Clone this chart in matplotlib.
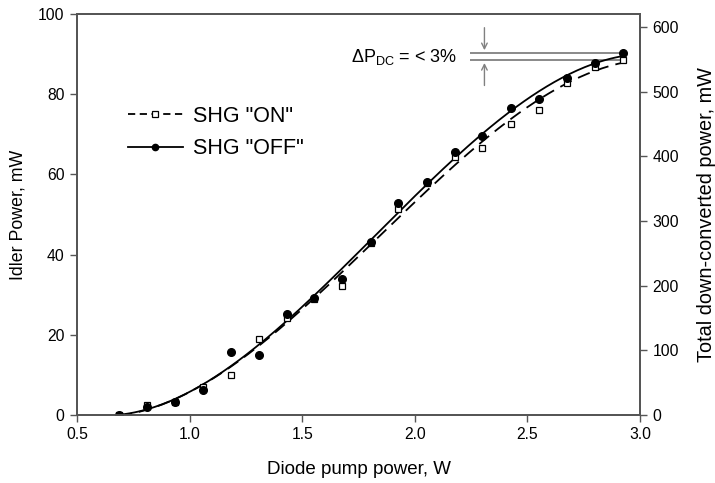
import matplotlib
matplotlib.use("Agg")
import matplotlib.pyplot as plt
import numpy as np

plt.rcParams["font.family"] = ["Liberation Sans", "DejaVu Sans"]
plt.rcParams["mathtext.fontset"] = "custom"
plt.rcParams["mathtext.rm"] = "Liberation Sans"
plt.rcParams["mathtext.it"] = "Liberation Sans"

# ------------------------------------------------------------------
# Data
# ------------------------------------------------------------------
pump_w = [0.688, 0.81, 0.935, 1.058, 1.184, 1.308, 1.431, 1.554, 1.678, 1.804,
          1.927, 2.053, 2.178, 2.30, 2.427, 2.55, 2.675, 2.80, 2.923]
idler_off = [0.0, 2.1, 3.2, 6.2, 15.8, 15.0, 25.2, 29.3, 33.8, 43.2,
             52.9, 58.0, 65.5, 69.7, 76.5, 78.7, 84.0, 87.9, 90.3]
idler_on = [0.0, 2.5, 3.2, 6.9, 10.0, 18.9, 24.3, 29.0, 32.2, 43.0,
            51.4, 57.8, 64.4, 66.7, 72.7, 76.1, 82.8, 86.7, 88.5]

xticks = [0.5, 1.0, 1.5, 2.0, 2.5, 3.0]
yticks_left = [0, 20, 40, 60, 80, 100]
yticks_right = [0, 100, 200, 300, 400, 500, 600]

SPINE = "#555555"
GUIDE = "#808080"

# smooth fit curves (cubic least squares through the measured points)
x = np.array(pump_w)
xf = np.linspace(x[0], x[-1], 200)
fit_off = np.clip(np.polyval(np.polyfit(x, idler_off, 3), xf), 0, None)
fit_on = np.clip(np.polyval(np.polyfit(x, idler_on, 3), xf), 0, None)

fig = plt.figure(figsize=(7.15, 4.83), dpi=100)
ax = fig.add_axes([0.1077, 0.1408, 0.7875, 0.830])

ax.plot(xf, fit_on, color="black", lw=1.3, ls=(0, (7, 4)), zorder=3)
ax.plot(xf, fit_off, color="black", lw=1.3, zorder=3)
ax.plot(x, idler_on, ls="none", marker="s", ms=4.5, mfc="white", mec="black",
        mew=0.9, zorder=4)
ax.plot(x, idler_off, ls="none", marker="o", ms=5.5, mfc="black", mec="black",
        zorder=5)

# legend proxies
h_on, = ax.plot([], [], color="black", lw=1.3, ls=(0, (4, 2.5)), marker="s",
                ms=4, mfc="white", mec="black", mew=0.9)
h_off, = ax.plot([], [], color="black", lw=1.3, marker="o", ms=4.5)
ax.legend([h_on, h_off], ['SHG "ON"', 'SHG "OFF"'], loc="upper left",
          bbox_to_anchor=(0.0906, 0.772), borderaxespad=0, borderpad=0,
          frameon=False, fontsize=15.5, handlelength=2.55,
          handletextpad=0.45, labelspacing=0.55)

# delta-P annotation
y_hi, y_lo = idler_off[-1], idler_on[-1]
ax.hlines([y_hi, y_lo], 2.245, 2.935, colors=GUIDE, lw=1.3, zorder=2)
ax.annotate("", xy=(2.309, y_hi), xytext=(2.309, 97.3),
            arrowprops=dict(arrowstyle="->", color=GUIDE, lw=1.0))
ax.annotate("", xy=(2.309, y_lo), xytext=(2.309, 81.5),
            arrowprops=dict(arrowstyle="->", color=GUIDE, lw=1.0))
ax.text(2.19, (y_hi + y_lo) / 2, r"$\Delta$P$_{\rm DC}$ = < 3%", ha="right",
        va="center", fontsize=13)

ax.set_xlim(0.5, 3.0)
ax.set_ylim(0, 100)
ax.set_xticks(xticks)
ax.set_xticklabels([f"{t:.1f}" for t in xticks])
ax.set_yticks(yticks_left)
ax.set_xlabel("Diode pump power, W", fontsize=13.5, labelpad=13)
ax.set_ylabel("Idler Power, mW", fontsize=12.8, labelpad=8)

ax2 = ax.twinx()
ax2.set_ylim(0, 620)
ax2.set_yticks(yticks_right)
ax2.set_ylabel("Total down-converted power, mW", fontsize=14.3, labelpad=13)

for a in (ax, ax2):
    for s in a.spines.values():
        s.set_color(SPINE)
        s.set_linewidth(1.3)
    a.tick_params(direction="out", length=5, width=1.0, color=SPINE,
                  labelsize=11.3, pad=4)

fig.savefig("out.png", dpi=100)
